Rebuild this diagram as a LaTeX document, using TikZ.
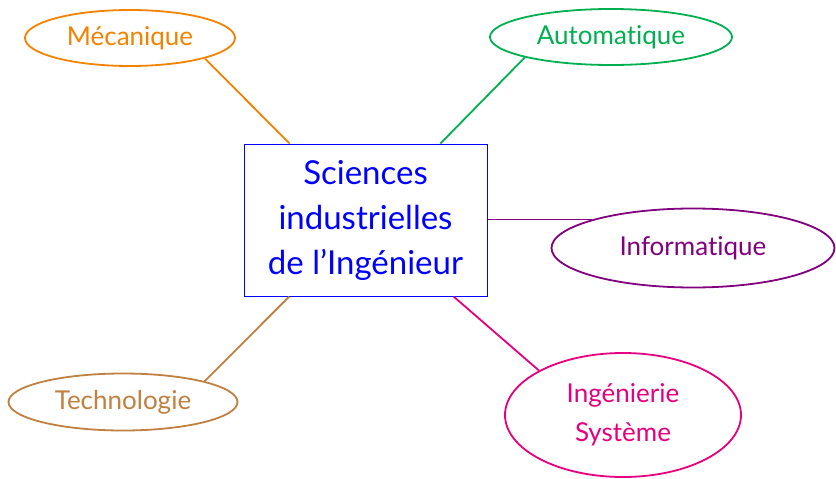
\documentclass[tikz,border=0pt]{standalone}
\usepackage{fontspec}
\setmainfont{Lato}[Ligatures={NoCommon,NoRare,NoDiscretionary}]
\usetikzlibrary{shapes.geometric}
\definecolor{cmeca}{RGB}{242,130,0}
\definecolor{cauto}{RGB}{0,176,80}
\definecolor{cinfo}{RGB}{128,0,128}
\definecolor{ctech}{RGB}{192,128,64}
\definecolor{cing}{RGB}{230,0,126}
\definecolor{cbox}{RGB}{0,0,255}
\tikzset{
  bubble/.style={ellipse, draw, line width=1.8pt, inner sep=0pt, font=\fontsize{26}{39}\selectfont, align=center},
  link/.style={line width=1.8pt},
}
\begin{document}
\begin{tikzpicture}[x=1pt,y=-1pt]
\useasboundingbox (0,0) rectangle (836,479);
\node[draw=cbox, line width=1pt, text=cbox, minimum width=243pt, minimum height=152pt, inner sep=0pt,
  align=center, font=\fontsize{33}{45}\selectfont] (box) at (365.5,220) {Sciences\\industrielles\\de l’Ingénieur};
\node[bubble, cmeca, minimum width=210pt, minimum height=56pt] (meca) at (130,38) {Mécanique};
\node[bubble, cauto, minimum width=242pt, minimum height=56pt] (auto) at (611,37) {Automatique};
\node[bubble, cinfo, minimum width=283pt, minimum height=79pt] (info) at (693,248) {Informatique};
\node[bubble, ctech, minimum width=229pt, minimum height=57pt] (tech) at (123,402) {Technologie};
\node[bubble, cing, minimum width=236pt, minimum height=124pt] (ing) at (623,415) {Ingénierie\\Système};
\draw[link, cmeca] (meca.south east) -- (box);
\draw[link, cauto] (auto.south west) -- (box);
\draw[link, cinfo] (info.north west) -- (info.north west -| box.east);
\draw[link, ctech] (tech.north east) -- (box);
\draw[link, cing] (ing.north west) -- (box);
\end{tikzpicture}
\end{document}
